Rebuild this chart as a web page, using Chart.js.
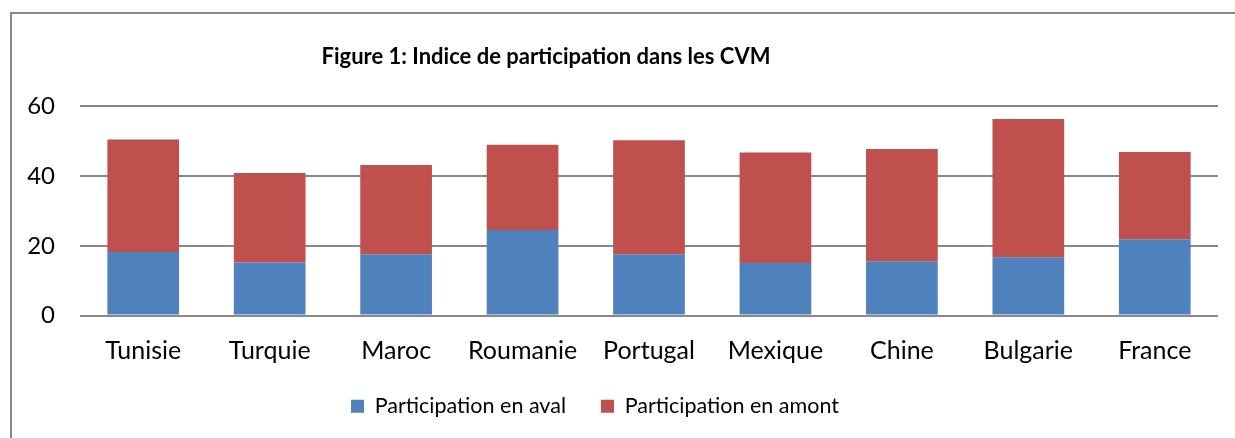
<!DOCTYPE html>
<html>
<head>
<meta charset="utf-8">
<script src="https://cdn.jsdelivr.net/npm/chart.js@4"></script>
<style>
  html, body { margin: 0; padding: 0; background: #fff; overflow: hidden; }
  #frame { position: absolute; left: 10px; top: 12px; width: 3000px; height: 3000px;
           border-top: 2px solid #888; border-left: 2px solid #888; }
  #c { position: absolute; left: 0; top: 0; }
</style>
</head>
<body>
<div id="frame"></div>
<canvas id="c" width="1235" height="438"></canvas>
<script>
const categories = ["Tunisie", "Turquie", "Maroc", "Roumanie", "Portugal", "Mexique", "Chine", "Bulgarie", "France"];
const avalValues = [18.2, 15.2, 17.6, 24.5, 17.6, 15.1, 15.6, 16.7, 21.9];
const amontValues = [32.3, 25.7, 25.6, 24.5, 32.7, 31.7, 32.2, 39.7, 25.0];
const seriesNames = ["Participation en aval", "Participation en amont"];
const yTicks = [0, 20, 40, 60];
const titleText = "Figure 1: Indice de participation dans les CVM";

const FONT = "Lato, 'Open Sans', sans-serif";

const shiftPlugin = {
  id: 'shiftBlocks',
  afterLayout(chart) {
    if (chart.titleBlock) { chart.titleBlock.left -= 63; chart.titleBlock.right -= 63; }
    if (chart.legend) {
      chart.legend.left -= 14; chart.legend.right -= 14;
      chart.legend.top -= 17; chart.legend.bottom -= 17;
    }
  }
};

new Chart(document.getElementById('c'), {
  type: 'bar',
  data: {
    labels: categories,
    datasets: [
      { label: seriesNames[0], data: avalValues, backgroundColor: '#4F81BD',
        categoryPercentage: 1, barPercentage: 0.567 },
      { label: seriesNames[1], data: amontValues, backgroundColor: '#C0504D',
        categoryPercentage: 1, barPercentage: 0.567 }
    ]
  },
  plugins: [shiftPlugin],
  options: {
    responsive: false,
    animation: false,
    layout: { padding: { left: 0, right: 17, top: 36, bottom: -6 } },
    plugins: {
      title: {
        display: true, text: titleText, color: '#000',
        font: { family: FONT, size: 22, weight: 'bold' },
        padding: { top: 8, bottom: 36 }
      },
      legend: {
        position: 'bottom',
        labels: {
          color: '#000', font: { family: FONT, size: 21.5 },
          boxWidth: 13, boxHeight: 13, padding: 35
        }
      },
      tooltip: { enabled: false }
    },
    scales: {
      x: {
        stacked: true,
        grid: { display: false },
        border: { display: false },
        ticks: { color: '#000', font: { family: FONT, size: 25 }, padding: 12, maxRotation: 0 }
      },
      y: {
        stacked: true,
        min: 0, max: 60,
        afterBuildTicks: (s) => { s.ticks = yTicks.map(v => ({ value: v })); },
        afterFit: (s) => { s.width = 80; },
        grid: { color: '#898989', lineWidth: 2, drawTicks: false },
        border: { display: false },
        ticks: { color: '#000', font: { family: FONT, size: 24 }, padding: 25 }
      }
    }
  }
});
</script>
</body>
</html>
